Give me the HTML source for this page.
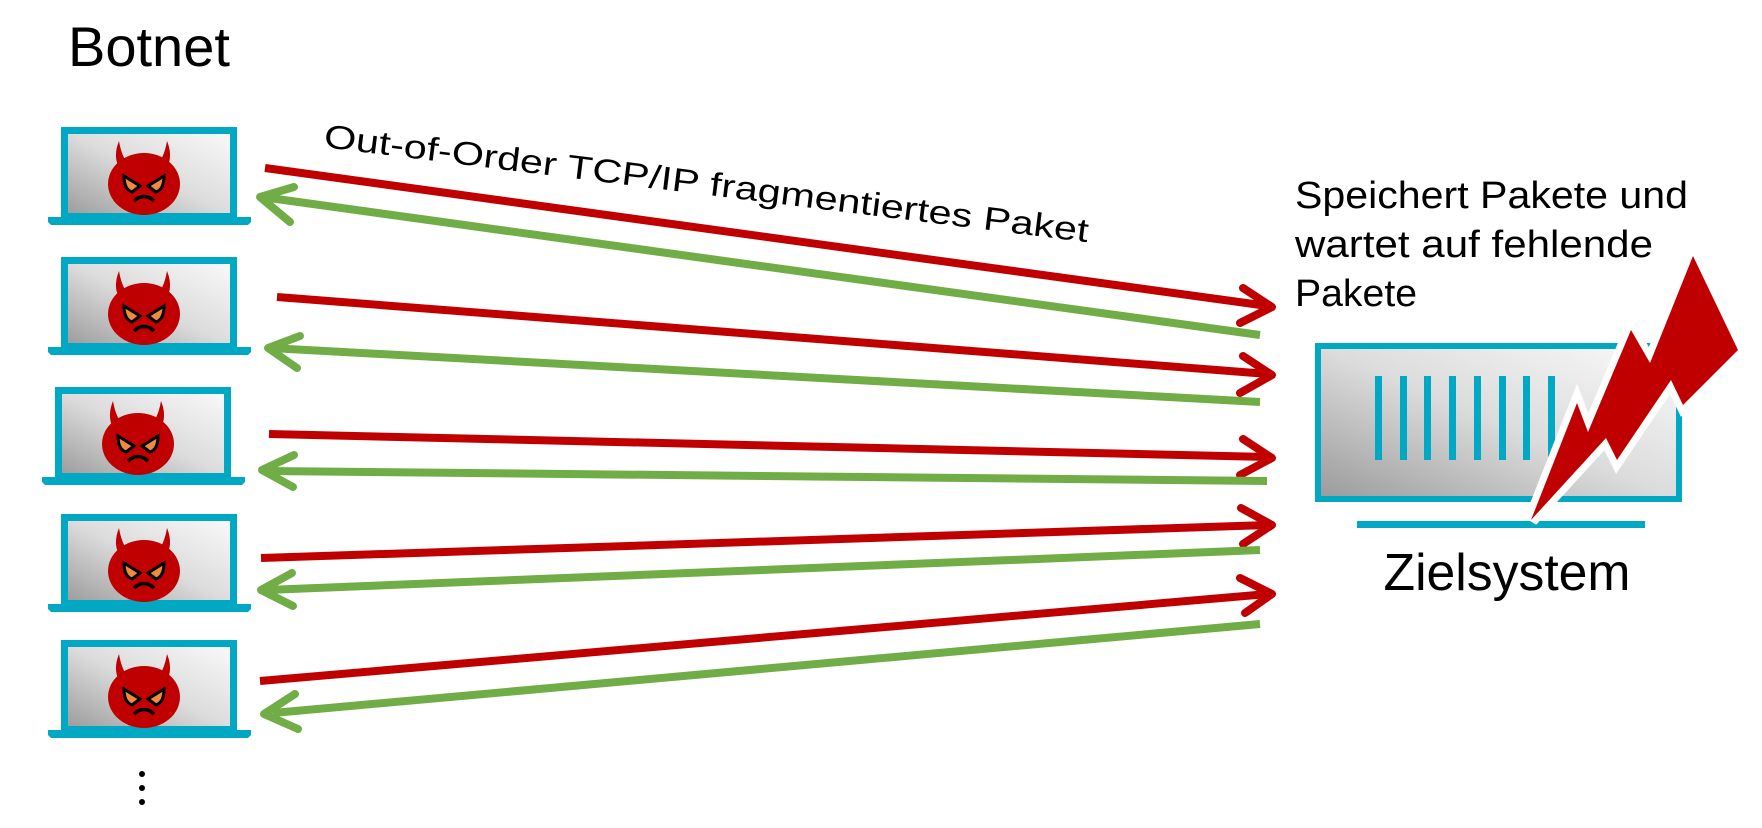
<!DOCTYPE html>
<html><head><meta charset="utf-8"><style>
html,body{margin:0;padding:0;background:#fff;}
svg{display:block;}
text{font-family:"Liberation Sans",sans-serif;fill:#000;}
</style></head><body>
<svg width="1762" height="828" viewBox="0 0 1762 828" xmlns="http://www.w3.org/2000/svg">
<defs>
<linearGradient id="g" x1="0" y1="1" x2="1" y2="0">
<stop offset="0" stop-color="#9a9a9a"/><stop offset="0.5" stop-color="#dcdcdc"/><stop offset="1" stop-color="#fafafa"/>
</linearGradient>
<g id="lap">
<rect x="64.5" y="3.5" width="169" height="86" fill="url(#g)" stroke="#00a8c4" stroke-width="7"/>
<path d="M48 90 H251 V95 L248 98 H51 L48 95 Z" fill="#00a8c4"/>
<path d="M119 14 C114 26 115 38 123 45 L131 40 C125 35 121 26 119 14 Z" fill="#c00000"/>
<path d="M167 14 C172 26 171 38 163 45 L155 40 C161 35 165 26 167 14 Z" fill="#c00000"/>
<ellipse cx="144" cy="57" rx="36" ry="31" fill="#c00000"/>
<path d="M124 49 L140 59 L132 65 C126 63 124 57 124 49 Z" fill="#f08a3c" stroke="#000" stroke-width="3"/>
<path d="M164 49 L148 59 L156 65 C162 63 164 57 164 49 Z" fill="#f08a3c" stroke="#000" stroke-width="3"/>
<path d="M134 74 C140 68 148 68 154 74" fill="none" stroke="#000" stroke-width="3.5"/>
</g>
</defs>
<text x="68" y="66" font-size="56">Botnet</text>
<use href="#lap" y="127"/>
<use href="#lap" y="257"/>
<use href="#lap" x="-6" y="387"/>
<use href="#lap" y="514"/>
<use href="#lap" y="640"/>
<circle cx="142" cy="774" r="3" fill="#000"/><circle cx="142" cy="788" r="3" fill="#000"/><circle cx="142" cy="802" r="3" fill="#000"/>

<g stroke-width="8" fill="none" stroke-linecap="round" stroke-linejoin="round">
<g stroke="#c00000">
<line x1="265" y1="168" x2="1268" y2="306" stroke-linecap="butt"/><polyline points="1243,288 1272,307 1240,323"/>
<line x1="277" y1="297" x2="1268" y2="374" stroke-linecap="butt"/><polyline points="1243,356 1272,375 1240,393"/>
<line x1="269" y1="434" x2="1268" y2="457" stroke-linecap="butt"/><polyline points="1243,439 1272,458 1240,475"/>
<line x1="261" y1="558" x2="1268" y2="525" stroke-linecap="butt"/><polyline points="1241,508 1272,525 1243,544"/>
<line x1="260" y1="681" x2="1268" y2="594" stroke-linecap="butt"/><polyline points="1240,578 1272,594 1245,613"/>
</g>
<g stroke="#70ad47">
<line x1="1260" y1="335" x2="262" y2="197" stroke-linecap="butt"/><polyline points="294,187 260,197 290,222"/>
<line x1="1260" y1="402" x2="270" y2="348" stroke-linecap="butt"/><polyline points="300,336 268,348 297,368"/>
<line x1="1267" y1="481" x2="266" y2="471" stroke-linecap="butt"/><polyline points="294,455 262,470 293,487"/>
<line x1="1260" y1="550" x2="266" y2="590" stroke-linecap="butt"/><polyline points="292,573 261,590 293,606"/>
<line x1="1260" y1="624" x2="273" y2="713" stroke-linecap="butt"/><polyline points="295,694 264,714 298,729"/>
</g>
</g>

<text transform="translate(323,147) rotate(7.1)" font-size="33" textLength="770" lengthAdjust="spacingAndGlyphs">Out-of-Order TCP/IP fragmentiertes Paket</text>

<text x="1295" y="208" font-size="38" textLength="393" lengthAdjust="spacingAndGlyphs">Speichert Pakete und</text>
<text x="1295" y="257" font-size="38" textLength="358" lengthAdjust="spacingAndGlyphs">wartet auf fehlende</text>
<text x="1295" y="306" font-size="38" textLength="122" lengthAdjust="spacingAndGlyphs">Pakete</text>

<rect x="1318" y="346" width="361" height="153" fill="url(#g)" stroke="#00a8c4" stroke-width="6"/>
<rect x="1357" y="521" width="288" height="7" fill="#00a8c4"/>
<g fill="#00a8c4">
<rect x="1375" y="376" width="7" height="84"/><rect x="1400" y="376" width="7" height="84"/><rect x="1424" y="376" width="7" height="84"/><rect x="1449" y="376" width="7" height="84"/><rect x="1474" y="376" width="7" height="84"/><rect x="1499" y="376" width="7" height="84"/><rect x="1523" y="376" width="7" height="84"/><rect x="1548" y="376" width="7" height="84"/>
</g>
<polygon points="1693,256 1738,350 1683,405 1671,380 1617,460 1606,438 1531,520 1577,403 1588,432 1631,330 1650,363" fill="#c00000" stroke="#fff" stroke-width="14" stroke-linejoin="miter"/>
<polygon points="1693,256 1738,350 1683,405 1671,380 1617,460 1606,438 1531,520 1577,403 1588,432 1631,330 1650,363" fill="#c00000"/>

<text x="1507" y="590" font-size="52" text-anchor="middle" textLength="247" lengthAdjust="spacingAndGlyphs">Zielsystem</text>
</svg>
</body></html>
